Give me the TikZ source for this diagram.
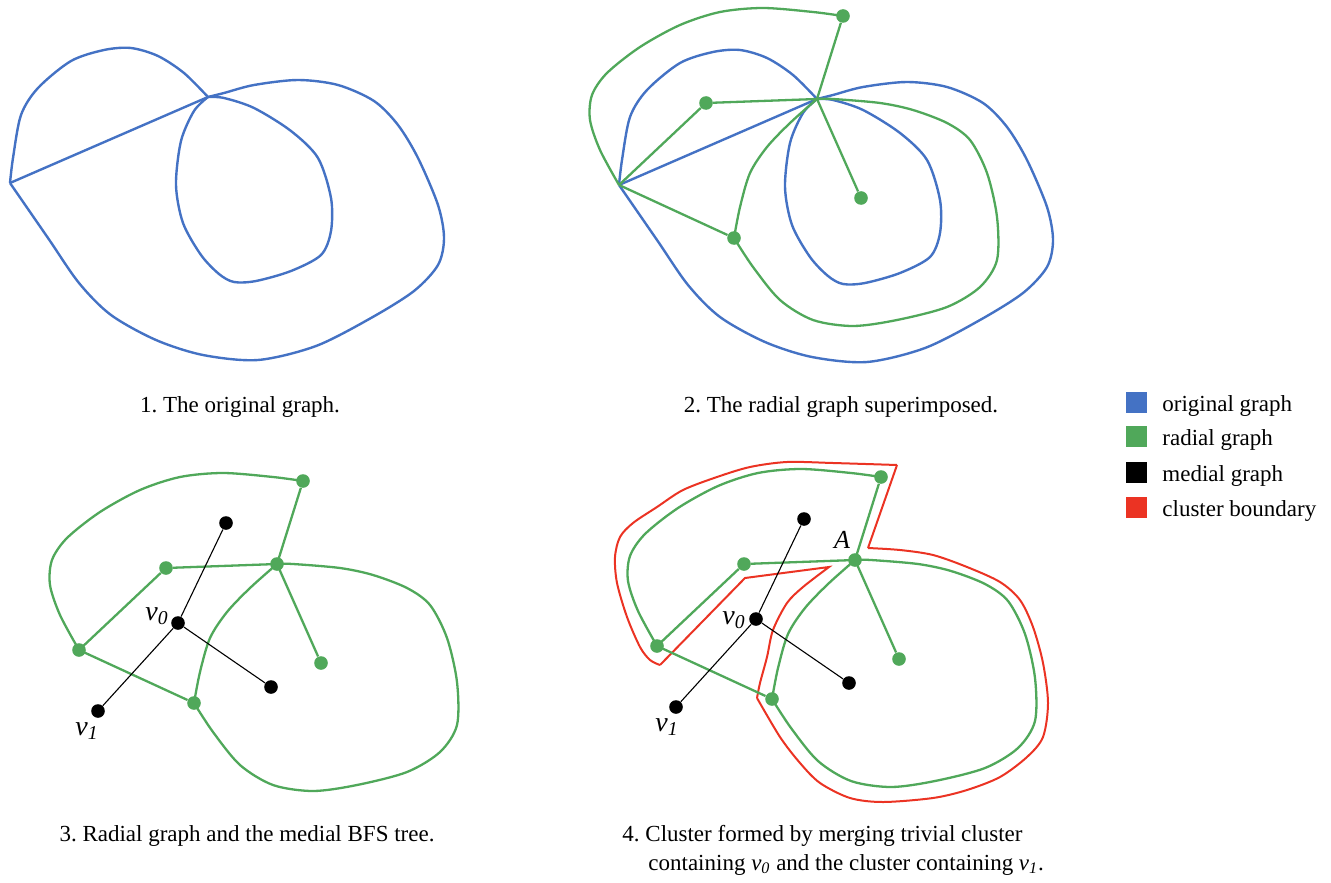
\documentclass[tikz,border=0pt]{standalone}
\usepackage{fontspec}
\setmainfont{Liberation Serif}
\frenchspacing
\definecolor{oblue}{HTML}{4472C4}
\definecolor{ogreen}{HTML}{50A85A}
\definecolor{ored}{HTML}{EB3323}
\tikzset{
  bline/.style={draw=oblue, line width=1.2pt, line join=round},
  gline/.style={draw=ogreen, line width=1.15pt, line join=round},
  rline/.style={draw=ored, line width=1.0pt, line join=miter},
  mline/.style={draw=black, line width=0.55pt},
  gdot/.style={circle, fill=ogreen, inner sep=0pt, minimum size=6.8pt},
  bdot/.style={circle, fill=black, inner sep=0pt, minimum size=6.8pt},
  legsq/.style={rectangle, inner sep=0pt, minimum size=10.5pt},
  captxt/.style={font=\fontsize{11.5}{14}\selectfont, inner sep=0pt},
  labtxt/.style={font=\fontsize{14}{16}\selectfont\itshape, inner sep=0pt},
  pics/orig/.style={code={
    \coordinate (L) at (619,185);
    \coordinate (T) at (817,99);
    \draw[bline] (L) -- (T);
    \draw[bline] plot[smooth] coordinates {(L) (622,160) (630,117) (647,90) (680,63) (713,52) (740,50) (767,58) (793,75) (T)};
    \draw[bline] plot[smooth] coordinates {(T) (833,95) (863,87) (907,82) (947,87) (983,103) (1007,127) (1027,160) (1047,207) (1053,240) (1047,267) (1023,293) (980,320) (925,348) (867,362) (812,357) (765,342) (720,317) (688,285) (657,240) (L)};
    \draw[bline] plot[smooth] coordinates {(T) (833,100) (863,110) (900,133) (927,160) (940,200) (940,233) (930,257) (900,273) (865,283) (843,284) (828,276) (810,257) (792,225) (785,187) (790,143) (803,113) (T)};
  }},
  pics/radial/.style={code={
    \coordinate (L) at (619,185);
    \coordinate (T) at (817,99);
    \draw[gline] plot[smooth] coordinates {(843,16) (813,12) (763,8) (720,12) (680,25) (640,47) (607,73) (592,95) (590,120) (600,150) (L)};
    \draw[gline] plot[smooth] coordinates {(T) (833,99) (880,103) (913,110) (947,123) (970,140) (987,173) (997,217) (997,260) (980,287) (947,307) (897,320) (853,326) (813,320) (780,300) (753,267) (734,238)};
    \draw[gline] plot[smooth] coordinates {(734,238) (740,207) (750,173) (767,147) (790,123) (T)};
    \node[gdot] (G1) at (843,16) {};
    \node[gdot] (G2) at (706,103) {};
    \node[gdot] (G3) at (861,198) {};
    \node[gdot] (G4) at (734,238) {};
    \draw[gline] (G1) -- (T) (G2) -- (T) (L) -- (G2) (T) -- (G3) (L) -- (G4);
  }},
  pics/medial/.style={code={
    \node[bdot] (M1) at (766,58) {};
    \node[bdot] (V0) at (718,158) {};
    \node[bdot] (M2) at (811,222) {};
    \node[bdot] (V1) at (638,246) {};
    \draw[mline] (V0) -- (M1) (V0) -- (M2) (V0) -- (V1);
  }}
}
\begin{document}
\begin{tikzpicture}[x=0.5pt,y=-0.5pt]
\useasboundingbox (0,0) rectangle (1331,882);
% panel 1
\pic (p1) at (-609,-2) {orig};
\node[captxt, anchor=base] (c1) at (240,412) {1. The original graph.};
% panel 2
\pic (p2) at (0,0) {orig};
\pic (r2) at (0,0) {radial};
\node[captxt, anchor=base] (c2) at (841,412) {2. The radial graph superimposed.};
% panel 3
\pic (r3) at (-540,465) {radial};
\node[gdot] (r3Ld) at (r3L) {};
\node[gdot] (r3Td) at (r3T) {};
\pic (m3) at (-540,465) {medial};
\node[labtxt] (l3v0) at (157,616) {v\textsubscript{0}};
\node[labtxt] (l3v1) at (87,731) {v\textsubscript{1}};
\node[captxt, anchor=base] (c3) at (247,841) {3. Radial graph and the medial BFS tree.};
% panel 4
\draw[rline] (897,465) -- (868,548)
  plot[smooth] coordinates {(868,548) (900,550) (933,555) (967,567) (1000,582) (1020,600) (1033,627) (1043,663) (1048,703) (1043,737) (1027,757) (1000,777) (967,790) (933,798) (883,802) (850,798) (820,783) (800,763) (780,737) (757,698)}
  plot[smooth] coordinates {(757,698) (760,683) (767,657) (773,630) (787,603) (803,587) (829,567)}
  -- (745,578) -- (660,665)
  plot[smooth] coordinates {(660,665) (650,660) (640,647) (627,617) (617,583) (615,557) (620,537) (633,523) (657,507) (683,490) (717,477) (750,467) (787,462) (833,463) (897,465)};
\pic (r4) at (38,461) {radial};
\node[gdot] (r4Ld) at (r4L) {};
\node[gdot] (r4Td) at (r4T) {};
\pic (m4) at (38,461) {medial};
\node[labtxt] (l4v0) at (734,620) {v\textsubscript{0}};
\node[labtxt] (l4v1) at (667,727) {v\textsubscript{1}};
\node[labtxt, font=\fontsize{13}{15}\selectfont\itshape] (l4A) at (842,540) {A};
\node[captxt, anchor=base west] (c4a) at (622,841) {4. Cluster formed by merging trivial cluster};
\node[captxt, anchor=base west] (c4b) at (648,870) {containing \textit{v}\textsubscript{\textit{0}} and the cluster containing \textit{v}\textsubscript{\textit{1}}.};
% legend
\node[legsq, fill=oblue] (k1) at (1136.5,402) {};
\node[legsq, fill=ogreen] (k2) at (1136.5,436) {};
\node[legsq, fill=black] (k3) at (1136.5,472) {};
\node[legsq, fill=ored] (k4) at (1136.5,507) {};
\node[captxt, anchor=base west] (t1) at (1162,411) {original graph};
\node[captxt, anchor=base west] (t2) at (1162,445) {radial graph};
\node[captxt, anchor=base west] (t3) at (1162,481) {medial graph};
\node[captxt, anchor=base west] (t4) at (1162,516) {cluster boundary};
\end{tikzpicture}
\end{document}
